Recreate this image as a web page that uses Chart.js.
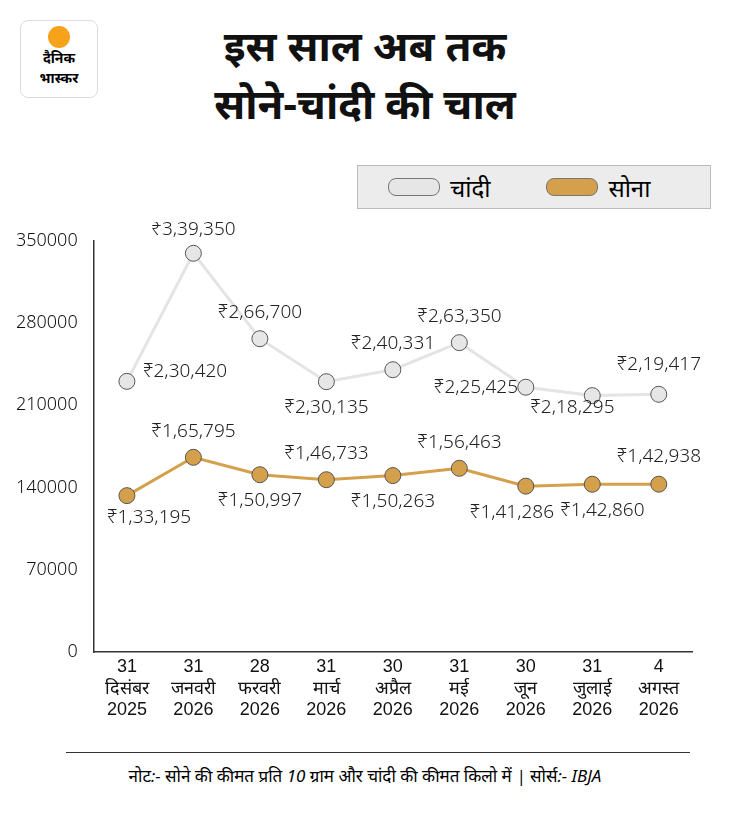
<!DOCTYPE html>
<html><head><meta charset="utf-8">
<script src="https://cdn.jsdelivr.net/npm/chart.js@4"></script>
<style>
body{margin:0;width:730px;height:822px;background:#fff;font-family:"Noto Sans","Noto Sans Devanagari",sans-serif;position:relative;overflow:hidden}
#logo{position:absolute;left:20px;top:20px;width:76px;height:76px;border:1px solid #ddd;border-radius:8px;text-align:center;font-weight:bold;font-size:14px;line-height:20px}
#logo .sun{width:22px;height:22px;border-radius:50%;background:#f7a21b;margin:5px auto 0}
#title{position:absolute;left:120px;width:490px;top:16px;text-align:center;font-size:42px;font-weight:bold;line-height:58px;color:#111}
#legend{position:absolute;left:357px;top:165px;width:352px;height:42px;background:#ececec;border:1px solid #bbb;font-size:24px;display:flex;align-items:center}
.dot{display:inline-block;width:50px;height:16px;border-radius:8px;border:1px solid #777;margin:0 10px 0 30px}
#wrap{position:absolute;left:0;top:222px;width:730px;height:520px}
#hr{position:absolute;left:66px;width:624px;top:752px;border-top:1px solid #333}
#note{position:absolute;left:0;width:730px;top:764px;text-align:center;font-size:17px;font-style:italic}
</style></head><body>
<div id="logo"><div class="sun"></div>दैनिक<br>भास्कर</div>
<div id="title">इस साल अब तक<br>सोने-चांदी की चाल</div>
<div id="legend"><span class="dot" style="background:#e6e6e6"></span>चांदी<span class="dot" style="background:#d4a04b;margin-left:56px"></span>सोना</div>
<div id="wrap"><canvas id="c" width="730" height="503"></canvas></div>
<div id="hr"></div>
<div id="note">नोट:- सोने की कीमत प्रति 10 ग्राम और चांदी की कीमत किलो में | सोर्स:- IBJA</div>
<script>
const categories = [["31","दिसंबर","2025"],["31","जनवरी","2026"],["28","फरवरी","2026"],["31","मार्च","2026"],["30","अप्रैल","2026"],["31","मई","2026"],["30","जून","2026"],["31","जुलाई","2026"],["4","अगस्त","2026"]];
const silver = [230420,339350,266700,230135,240331,263350,225425,218295,219417];
const gold = [133195,165795,150997,146733,150263,156463,141286,142860,142938];
const silverLabels = ["₹2,30,420","₹3,39,350","₹2,66,700","₹2,30,135","₹2,40,331","₹2,63,350","₹2,25,425","₹2,18,295","₹2,19,417"];
const goldLabels = ["₹1,33,195","₹1,65,795","₹1,50,997","₹1,46,733","₹1,50,263","₹1,56,463","₹1,41,286","₹1,42,860","₹1,42,938"];
// label placement: dx, dy relative to point
const silverPos = [[58,-10],[0,-24],[0,-26],[0,26],[0,-26],[0,-26],[-50,0],[-20,12],[0,-30]];
const goldPos = [[22,22],[0,-26],[0,26],[0,-26],[0,26],[0,-26],[-14,26],[10,26],[0,-28]];

const labelPlugin = {
  id: "valueLabels",
  afterDatasetsDraw(chart) {
    const ctx = chart.ctx;
    ctx.save();
    ctx.font = "300 19px 'Noto Sans'";
    ctx.fillStyle = "#222";
    ctx.textAlign = "center";
    ctx.textBaseline = "middle";
    [[0, silverLabels, silverPos], [1, goldLabels, goldPos]].forEach(([i, labels, pos]) => {
      chart.getDatasetMeta(i).data.forEach((p, j) => {
        ctx.fillText(labels[j], p.x + pos[j][0], p.y + pos[j][1]);
      });
    });
    ctx.restore();
  }
};

new Chart(document.getElementById("c"), {
  type: "line",
  data: {
    labels: categories,
    datasets: [
      {data: silver, borderColor: "#e4e4e4", borderWidth: 3, backgroundColor: "#e6e6e6", pointBorderColor: "#555", pointBorderWidth: 1, pointRadius: 8, tension: 0},
      {data: gold, borderColor: "#d4a04b", borderWidth: 3, backgroundColor: "#d4a04b", pointBorderColor: "#555", pointBorderWidth: 1, pointRadius: 8, tension: 0}
    ]
  },
  options: {
    responsive: false, animation: false, devicePixelRatio: 1,
    layout: {padding: {left: 8, right: 38, top: 18, bottom: 0}},
    plugins: {legend: {display: false}, tooltip: {enabled: false}},
    scales: {
      x: {offset: true, grid: {display: false, drawTicks: false}, border: {color: "#333", width: 1.5},
          ticks: {color: "#111", font: {size: 18}, padding: 4}},
      y: {min: 0, max: 350000, grid: {display: false}, border: {color: "#333", width: 1.5},
          ticks: {stepSize: 70000, color: "#111", font: {size: 18, family: "'Noto Sans'", weight: "300"}, padding: 8, callback: v => String(v)}}
    }
  },
  plugins: [labelPlugin]
});
</script>
</body></html>
